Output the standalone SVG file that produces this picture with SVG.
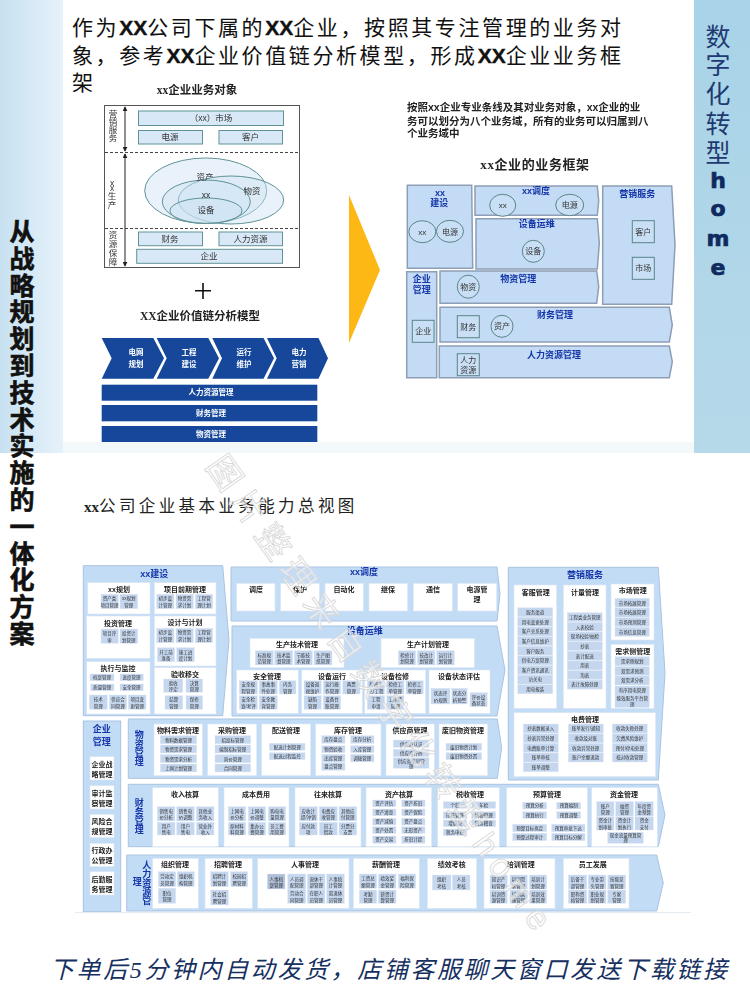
<svg xmlns="http://www.w3.org/2000/svg" width="750" height="1000" viewBox="0 0 750 1000">
<style>
text{font-family:"Liberation Sans","Noto Sans CJK SC",sans-serif;text-anchor:middle;fill:#222}
.song{font-family:"Liberation Serif","Noto Sans CJK SC",serif}
.head{font-size:21px;text-anchor:start;letter-spacing:2.6px;fill:#111}
.xx{font-family:"Liberation Sans",sans-serif;font-weight:700;font-size:21px;letter-spacing:0;stroke:#111;stroke-width:.4}
.obj{fill:#d9e8f6;stroke:#5f9396;stroke-width:1}
.ot{font-size:8.5px;fill:#333}
.ell{fill:#cfe3f4;fill-opacity:.45;stroke:#5f9396;stroke-width:1}
.blk{fill:#12479a}
.wt{font-size:7.5px;font-weight:700;fill:#fff}
.dom{fill:#c3dbf5;stroke:#8d9eb5;stroke-width:1.5}
.dt{font-size:9px;font-weight:700;fill:#1636a8}
.cir{fill:#c9dff5;stroke:#5b8588;stroke-width:1}
.ct{font-size:8px;fill:#333}
.pan{fill:#c3dcf6;stroke:#a9c3e2;stroke-width:1}
.w{fill:#fff;stroke:#dbe7f4;stroke-width:.6}
.h{font-size:7px;font-weight:700;fill:#222}
.s{fill:#c5d7ef;stroke:#dde7f5;stroke-width:.4}
.t{font-size:4.5px;fill:#333}
.pt{font-size:9px;font-weight:700;fill:#1636a8}
</style>
<defs>
<linearGradient id="lb" x1="0" x2="1" y1="0" y2="0"><stop offset="0" stop-color="#c7e1f1"/><stop offset="1" stop-color="#e6f2fa"/></linearGradient>
<linearGradient id="rb" x1="0" x2="0" y1="0" y2="1"><stop offset="0" stop-color="#a8d3e8"/><stop offset="1" stop-color="#b6d9e9"/></linearGradient>
<marker id="arr" viewBox="0 0 6 6" refX="5" refY="3" markerWidth="5" markerHeight="5" orient="auto-start-reverse"><path d="M0 0L6 3L0 6Z" fill="#222"/></marker>
<filter id="soft" x="-2%" y="-2%" width="104%" height="104%"><feGaussianBlur stdDeviation="0.3"/></filter>
</defs>
<rect width="750" height="1000" fill="#fff"/>
<rect x="63" y="442" width="631" height="11" fill="#f3f8fb"/>
<rect id="left-band" x="0" y="0" width="63" height="453" fill="url(#lb)"/>
<rect id="right-band" x="694" y="0" width="56" height="453" fill="url(#rb)"/>

<g id="intro-text">
<text class="song head" x="72" y="35">作为<tspan class="xx">XX</tspan>公司下属的<tspan class="xx">XX</tspan>企业&#xFF0C;按照其专注管理的业务对</text>
<text class="song head" x="72" y="63">象&#xFF0C;参考<tspan class="xx">XX</tspan>企业价值链分析模型&#xFF0C;形成<tspan class="xx">XX</tspan>企业业务框</text>
<text class="song head" x="72" y="90">架</text>
</g>

<g filter="url(#soft)">
<g id="business-objects">
<text x="197" y="94" font-size="11.5" font-weight="700" class="song">xx企业业务对象</text>
<rect x="104.5" y="105.5" width="195" height="162" fill="#fff" stroke="#555" stroke-width="1"/>
<path d="M105 152.5H299M105 228.5H299" stroke="#444" stroke-dasharray="3 2" fill="none"/>
<text class="ot" x="113 113 113 113" y="117 125 133 141">营销服务</text>
<text class="ot" x="112 112 112 112" y="186 191 199 208">xx生产</text>
<text class="ot" x="113 113 113 113" y="238 247 256 265">资源保障</text>
<rect class="obj" x="138.5" y="111" width="145" height="14.5"/><text class="ot" x="211" y="121">&#xFF08;xx&#xFF09;市场</text>
<rect class="obj" x="138.5" y="130.5" width="64" height="13.5"/><text class="ot" x="170" y="140">电源</text>
<rect class="obj" x="219" y="130.5" width="63.5" height="13.5"/><text class="ot" x="250.5" y="140">客户</text>
<ellipse class="ell" cx="205.7" cy="190.7" rx="61" ry="32.7"/>
<ellipse class="ell" cx="231" cy="200" rx="52.7" ry="24"/>
<ellipse class="ell" cx="206.3" cy="201.7" rx="44" ry="21.7"/>
<ellipse class="ell" cx="206" cy="210.7" rx="36" ry="12.7"/>
<text class="ot" x="205" y="180">资产</text><text class="ot" x="252" y="194">物资</text><text class="ot" x="206" y="198">xx</text><text class="ot" x="206" y="213">设备</text>
<rect class="obj" x="138.5" y="232" width="64" height="13.7"/><text class="ot" x="170" y="242">财务</text>
<rect class="obj" x="219" y="232" width="63.5" height="13.7"/><text class="ot" x="250.5" y="242">人力资源</text>
<rect class="obj" x="136.7" y="249.3" width="145.8" height="14"/><text class="ot" x="209" y="259">企业</text>
</g>
<g id="connectors" stroke="#222" stroke-width="1" fill="none">
<path d="M125 107V151" marker-start="url(#arr)" marker-end="url(#arr)"/>
<path d="M125 154V266" marker-start="url(#arr)" marker-end="url(#arr)"/>
</g>
<g id="plus"><path d="M203 283V299M195 290.7H211" stroke="#111" stroke-width="1.6" fill="none"/></g>
<g id="value-chain">
<text x="200" y="320" font-size="11.5" font-weight="700" class="song">XX企业价值链分析模型</text>
<path class="blk" d="M101.7 338H153.3L164 358.3L153.3 378.7H101.7L111.7 358.3Z"/><text class="wt" x="136" y="355">电网</text><text class="wt" x="136" y="367">规划</text>
<path class="blk" d="M156.7 338H208.3L219 358.3L208.3 378.7H156.7L166.7 358.3Z"/><text class="wt" x="189" y="355">工程</text><text class="wt" x="189" y="367">建设</text>
<path class="blk" d="M212.3 338H263.5L274 358.3L263.5 378.7H212.3L222 358.3Z"/><text class="wt" x="244" y="355">运行</text><text class="wt" x="244" y="367">维护</text>
<path class="blk" d="M267 338H318.5L328 358.3L318.5 378.7H267L276.7 358.3Z"/><text class="wt" x="299" y="355">电力</text><text class="wt" x="299" y="367">营销</text>
<rect class="blk" x="101.7" y="384.7" width="215.6" height="16"/><text class="wt" x="211" y="395">人力资源管理</text>
<rect class="blk" x="101.7" y="405" width="215.6" height="16.3"/><text class="wt" x="211" y="416">财务管理</text>
<rect class="blk" x="101.7" y="426" width="215.6" height="16"/><text class="wt" x="211" y="437">物资管理</text>
</g>
<g id="big-arrow"><path d="M349 195L380 270L349 343Z" fill="#fdb813"/></g>
<g id="framework-intro">
<text x="407" y="111" font-size="10.5" font-weight="700" style="text-anchor:start">按照xx企业专业条线及其对业务对象&#xFF0C;xx企业的业</text>
<text x="407" y="124.5" font-size="10.5" font-weight="700" style="text-anchor:start">务可以划分为八个业务域&#xFF0C;所有的业务可以归属到八</text>
<text x="407" y="137" font-size="10.5" font-weight="700" style="text-anchor:start">个业务域中</text>
<text x="535" y="169" font-size="13" font-weight="700" letter-spacing=".6" class="song">xx企业的业务框架</text>
</g>
<g id="fw-build"><path class="dom" d="M407.3 185.3H471.7L472.7 268.3H407.3Z"/><text class="dt" x="440" y="196">xx</text><text class="dt" x="439.3" y="206">建设</text>
<ellipse class="cir" cx="422.3" cy="231.7" rx="13.5" ry="11"/><text class="ct" x="422.3" y="234.5">xx</text><ellipse class="cir" cx="450" cy="231.3" rx="13.5" ry="11"/><text class="ct" x="450" y="234.5">电源</text></g>
<g id="fw-dispatch"><path class="dom" d="M475 186H597.3L598.7 200.7L597.3 215.3H475Z"/><text class="dt" x="536" y="194">xx调度</text>
<ellipse class="cir" cx="502.7" cy="205.3" rx="13" ry="11"/><text class="ct" x="502.7" y="208">xx</text><ellipse class="cir" cx="569.7" cy="205" rx="14" ry="10.7"/><text class="ct" x="569.7" y="208">电源</text></g>
<g id="fw-ops"><path class="dom" d="M476 218.7H597.3L599.3 243.3L597.3 269H476Z"/><text class="dt" x="536.7" y="227">设备运维</text>
<ellipse class="cir" cx="533.3" cy="251.3" rx="11" ry="11"/><text class="ct" x="533.3" y="254">设备</text></g>
<g id="fw-marketing"><path class="dom" d="M602.7 186H671.7L675 245L671.7 304.3H602.7Z"/><text class="dt" x="637.3" y="197">营销服务</text>
<rect class="cir" x="632.3" y="220.7" width="22" height="22"/><text class="ct" x="643.3" y="234.5">客户</text><rect class="cir" x="632.3" y="257.3" width="22" height="22"/><text class="ct" x="643.3" y="271">市场</text></g>
<g id="fw-enterprise"><path class="dom" d="M406.7 271.7H436.7V377.7H406.7Z"/><text class="dt" x="421.7" y="282">企业</text><text class="dt" x="421.7" y="293">管理</text>
<rect class="cir" x="412.3" y="320.3" width="21.7" height="22"/><text class="ct" x="423.2" y="334">企业</text></g>
<g id="fw-material"><path class="dom" d="M440 271H596.7L598.7 286.7L596.7 303.3H440Z"/><text class="dt" x="518.3" y="282">物资管理</text>
<ellipse class="cir" cx="468.3" cy="286.7" rx="11" ry="11.5"/><text class="ct" x="468.3" y="289.5">物资</text></g>
<g id="fw-finance"><path class="dom" d="M440 307.3H669.3L672.3 325L669.3 342H440Z"/><text class="dt" x="555" y="318">财务管理</text>
<rect class="cir" x="457.3" y="315.7" width="22" height="22"/><text class="ct" x="468.3" y="329.5">财务</text><ellipse class="cir" cx="502" cy="326.3" rx="11" ry="11"/><text class="ct" x="502" y="329">资产</text></g>
<g id="fw-hr"><path class="dom" d="M439.3 346H669.3L672.3 361.7L669.3 377.7H439.3Z"/><text class="dt" x="554" y="357.5">人力资源管理</text>
<rect class="cir" x="457.3" y="353.7" width="22" height="22"/><text class="ct" x="468.3" y="363">人力</text><text class="ct" x="468.3" y="372.5">资源</text></g>
</g>

<text id="capability-title" class="song" x="84" y="512" font-size="16.5" letter-spacing="3.4" fill="#111" style="text-anchor:start"><tspan font-weight="700" letter-spacing="0" font-size="15">xx</tspan>公司企业基本业务能力总视图</text>

<g filter="url(#soft)">
<g id="cap-build">
<path class="pan" d="M83.3 565.7H222.7L229 640L222.7 715.7H83.3Z"/><text class="pt" x="154.3" y="577">xx建设</text>
<rect class="w" x="87.7" y="582.7" width="62.3" height="31.3"/><text class="h" x="119" y="591.5">xx规划</text>
<rect class="s" x="101" y="594.3" width="17.3" height="14.4"/><text class="t" x="109.6" y="600">资产类<tspan x="109.6" dy="6.6">项目管理</tspan></text>
<rect class="s" x="120" y="594.3" width="17.7" height="14.4"/><text class="t" x="128.8" y="600">xx规划<tspan x="128.8" dy="6.6">管理</tspan></text>
<rect class="w" x="154.3" y="582.7" width="61.7" height="31.3"/><text class="h" x="185" y="591.5">项目前期管理</text>
<rect class="s" x="156.7" y="594.3" width="17.3" height="14.4"/><text class="t" x="165.3" y="600">初步设<tspan x="165.3" dy="6.6">计管理</tspan></text>
<rect class="s" x="176" y="594.3" width="17.3" height="14.4"/><text class="t" x="184.6" y="600">物资需<tspan x="184.6" dy="6.6">求计划</tspan></text>
<rect class="s" x="195.3" y="594.3" width="17.4" height="14.4"/><text class="t" x="204" y="600">工程管<tspan x="204" dy="6.6">理计划</tspan></text>
<rect class="w" x="86.7" y="616" width="63.3" height="42.3"/><text class="h" x="118" y="625.5">投资管理</text>
<rect class="s" x="101" y="629" width="17.3" height="14.3"/><text class="t" x="109.6" y="635">项目评<tspan x="109.6" dy="6.6">审</tspan></text>
<rect class="s" x="120" y="629" width="17.7" height="14.3"/><text class="t" x="128.8" y="635">投资计<tspan x="128.8" dy="6.6">划管理</tspan></text>
<rect class="w" x="154.3" y="616" width="61.7" height="50"/><text class="h" x="185" y="625">设计与计划</text>
<rect class="s" x="156.7" y="628.3" width="17.3" height="14.4"/><text class="t" x="165.3" y="634">初步设<tspan x="165.3" dy="6.6">计管理</tspan></text>
<rect class="s" x="176" y="628.3" width="17.3" height="14.4"/><text class="t" x="184.6" y="634">物资需<tspan x="184.6" dy="6.6">求计划</tspan></text>
<rect class="s" x="195.3" y="628.3" width="17.4" height="14.4"/><text class="t" x="204" y="634">工程管<tspan x="204" dy="6.6">理计划</tspan></text>
<rect class="s" x="157.3" y="647.7" width="17.4" height="14"/><text class="t" x="166" y="653.5">开工前<tspan x="166" dy="6.6">准备</tspan></text>
<rect class="s" x="176.7" y="647.7" width="17.6" height="14"/><text class="t" x="185.5" y="653.5">施工进<tspan x="185.5" dy="6.6">度计划</tspan></text>
<rect class="w" x="86.7" y="661.7" width="63.3" height="52.3"/><text class="h" x="118" y="671">执行与监控</text>
<rect class="s" x="90" y="674" width="24" height="6.7"/><text class="t" x="102" y="679">档案管理</text>
<rect class="s" x="120" y="674" width="23.3" height="6.7"/><text class="t" x="131.6" y="679">进度管理</text>
<rect class="s" x="90.7" y="684" width="23.3" height="6.7"/><text class="t" x="102.3" y="689">质量管理</text>
<rect class="s" x="120" y="684" width="23.3" height="6.7"/><text class="t" x="131.6" y="689">安全管理</text>
<rect class="s" x="89.3" y="695" width="18" height="14.3"/><text class="t" x="98.3" y="701">技术<tspan x="98.3" dy="6.6">管理</tspan></text>
<rect class="s" x="109.3" y="695" width="17.4" height="14.3"/><text class="t" x="118" y="701">供应合<tspan x="118" dy="6.6">同管理</tspan></text>
<rect class="s" x="128.3" y="695" width="17.7" height="14.3"/><text class="t" x="137.2" y="701">项目变<tspan x="137.2" dy="6.6">更管理</tspan></text>
<rect class="w" x="154.3" y="667.7" width="61.7" height="46.3"/><text class="h" x="185" y="676.5">验收移交</text>
<rect class="s" x="163.7" y="679" width="19" height="13.3"/><text class="t" x="173.2" y="684.5">验收<tspan x="173.2" dy="6.6">评定</tspan></text>
<rect class="s" x="186" y="679" width="16.7" height="13.3"/><text class="t" x="194.3" y="684.5">决算<tspan x="194.3" dy="6.6">管理</tspan></text>
<rect class="s" x="165" y="695.7" width="17.7" height="13.6"/><text class="t" x="173.8" y="701">结算<tspan x="173.8" dy="6.6">管理</tspan></text>
<rect class="s" x="186" y="695.7" width="16.7" height="13.6"/><text class="t" x="194.3" y="701">保修<tspan x="194.3" dy="6.6">管理</tspan></text>
</g>

<g id="cap-dispatch">
<path class="pan" d="M231 567H497L500 594L497 621H231Z"/><text class="pt" x="364" y="575">xx调度</text>
<rect class="w" x="236.7" y="583.3" width="38.3" height="27.7"/><text class="h" x="256" y="592">调度</text>
<rect class="w" x="280.7" y="583.3" width="38.6" height="27.7"/><text class="h" x="300" y="592">保护</text>
<rect class="w" x="325" y="583.3" width="38.3" height="27.7"/><text class="h" x="344" y="592">自动化</text>
<rect class="w" x="369" y="583.3" width="38.7" height="27.7"/><text class="h" x="388" y="592">继保</text>
<rect class="w" x="413.3" y="583.3" width="39" height="27.7"/><text class="h" x="433" y="592">通信</text>
<rect class="w" x="457.7" y="583.3" width="39" height="27.7"/><text class="h" x="477" y="592">电源管</text><text class="h" x="477" y="602">理</text>
</g>

<g id="cap-ops">
<path class="pan" d="M232 626H497L505 670L497 716H232Z"/><text class="pt" x="364.7" y="634">设备运维</text>
<rect class="w" x="250" y="638.3" width="94" height="29.4"/><text class="h" x="297" y="647">生产技术管理</text>
<rect class="s" x="255.3" y="650.7" width="18" height="14.3"/><text class="t" x="264.3" y="656.5">标准规<tspan x="264.3" dy="6.6">范管理</tspan></text>
<rect class="s" x="274.7" y="650.7" width="18" height="14.3"/><text class="t" x="283.7" y="656.5">技术监<tspan x="283.7" dy="6.6">督管理</tspan></text>
<rect class="s" x="294.3" y="650.7" width="18" height="14.3"/><text class="t" x="303.3" y="656.5">节能技<tspan x="303.3" dy="6.6">术管理</tspan></text>
<rect class="s" x="314" y="650.7" width="18" height="14.3"/><text class="t" x="323" y="656.5">生产图<tspan x="323" dy="6.6">纸管理</tspan></text>
<rect class="w" x="381" y="638.3" width="93.3" height="29.4"/><text class="h" x="428" y="647">生产计划管理</text>
<rect class="s" x="398.3" y="650.7" width="17.4" height="14.3"/><text class="t" x="407" y="656.5">检修计<tspan x="407" dy="6.6">划管理</tspan></text>
<rect class="s" x="417.3" y="650.7" width="17.7" height="14.3"/><text class="t" x="426.2" y="656.5">技改计<tspan x="426.2" dy="6.6">划管理</tspan></text>
<rect class="s" x="436.7" y="650.7" width="17.6" height="14.3"/><text class="t" x="445.5" y="656.5">运行计<tspan x="445.5" dy="6.6">划管理</tspan></text>
<rect class="w" x="236.7" y="670" width="61.6" height="43.3"/><text class="h" x="267" y="678.5">安全管理</text>
<rect class="s" x="239.3" y="680.7" width="18" height="13.3"/><text class="t" x="248.3" y="686">安全规<tspan x="248.3" dy="6.6">程管理</tspan></text>
<rect class="s" x="259.3" y="680.7" width="18" height="13.3"/><text class="t" x="268.3" y="686">事故事<tspan x="268.3" dy="6.6">件处理</tspan></text>
<rect class="s" x="279.3" y="680.7" width="16.7" height="13.3"/><text class="t" x="287.6" y="686">内务<tspan x="287.6" dy="6.6">管理</tspan></text>
<rect class="s" x="239.3" y="695.7" width="18" height="13.6"/><text class="t" x="248.3" y="701">安全检<tspan x="248.3" dy="6.6">查/考评</tspan></text>
<rect class="s" x="259.3" y="695.7" width="18" height="13.6"/><text class="t" x="268.3" y="701">安全教<tspan x="268.3" dy="6.6">育管理</tspan></text>
<rect class="w" x="301.7" y="670" width="60.6" height="43.3"/><text class="h" x="332" y="678.5">设备运行</text>
<rect class="s" x="304" y="680.7" width="17.3" height="13.3"/><text class="t" x="312.6" y="686">设备巡<tspan x="312.6" dy="6.6">视维护</tspan></text>
<rect class="s" x="323.3" y="680.7" width="17.4" height="13.3"/><text class="t" x="332" y="686">运行操<tspan x="332" dy="6.6">作管理</tspan></text>
<rect class="s" x="342.7" y="680.7" width="17.3" height="13.3"/><text class="t" x="351.3" y="686">两票<tspan x="351.3" dy="6.6">管理</tspan></text>
<rect class="s" x="304" y="695.7" width="17.3" height="13.6"/><text class="t" x="312.6" y="701">缺陷<tspan x="312.6" dy="6.6">管理</tspan></text>
<rect class="s" x="323.3" y="695.7" width="17.4" height="13.6"/><text class="t" x="332" y="701">设备台<tspan x="332" dy="6.6">账管理</tspan></text>
<rect class="w" x="364.7" y="670" width="61" height="43.3"/><text class="h" x="395" y="678.5">设备检修</text>
<rect class="s" x="367.3" y="680.7" width="17.4" height="13.3"/><text class="t" x="376" y="686">检修工<tspan x="376" dy="6.6">艺/工程</tspan></text>
<rect class="s" x="386.7" y="680.7" width="17.3" height="13.3"/><text class="t" x="395.3" y="686">检修工<tspan x="395.3" dy="6.6">单管理</tspan></text>
<rect class="s" x="406" y="680.7" width="17.3" height="13.3"/><text class="t" x="414.6" y="686">检修工<tspan x="414.6" dy="6.6">单管理</tspan></text>
<rect class="s" x="367.3" y="695.7" width="17.4" height="13.6"/><text class="t" x="376" y="701">工程<tspan x="376" dy="6.6">申请</tspan></text>
<rect class="s" x="386.7" y="695.7" width="17.3" height="13.6"/><text class="t" x="395.3" y="701">工作票<tspan x="395.3" dy="6.6">管理</tspan></text>
<rect class="w" x="429" y="670" width="61" height="43.3"/><text class="h" x="459" y="678.5">设备状态评估</text>
<rect class="s" x="431" y="688.3" width="19" height="15.7"/><text class="t" x="440.5" y="695">状态评<tspan x="440.5" dy="6.6">价规则</tspan></text>
<rect class="s" x="451.7" y="688.3" width="15.6" height="15.7"/><text class="t" x="459.5" y="695">状态分<tspan x="459.5" dy="6.6">析预警</tspan></text>
<rect class="s" x="470" y="692.7" width="17.3" height="14"/><text class="t" x="478.6" y="698.5">评价设<tspan x="478.6" dy="6.6">备状态</tspan></text>
</g>

<g id="cap-marketing">
<path class="pan" d="M508.3 567.3H658.3L665 673.3L658.3 780H508.3Z"/><text class="pt" x="585" y="578">营销服务</text>
<rect class="w" x="514" y="585" width="42.7" height="123.3"/><text class="h" x="535.7" y="595">客服管理</text>
<rect class="s" x="517.7" y="607.7" width="35" height="9"/><text class="t" x="535.2" y="614">服务渠道</text>
<rect class="s" x="517.7" y="617.3" width="35" height="9"/><text class="t" x="535.2" y="623.6">用电变更处理</text>
<rect class="s" x="517.7" y="627" width="35" height="9"/><text class="t" x="535.2" y="633.3">客户关系处理</text>
<rect class="s" x="517.7" y="636.6" width="35" height="9"/><text class="t" x="535.2" y="642.9">客户信息维护</text>
<rect class="s" x="517.7" y="646.2" width="35" height="9"/><text class="t" x="535.2" y="652.5">客户服务</text>
<rect class="s" x="517.7" y="655.9" width="35" height="9"/><text class="t" x="535.2" y="662.2">供电方案管理</text>
<rect class="s" x="517.7" y="665.5" width="35" height="9"/><text class="t" x="535.2" y="671.8">客户资讯通讯</text>
<rect class="s" x="517.7" y="675.1" width="35" height="9"/><text class="t" x="535.2" y="681.4">访关电</text>
<rect class="s" x="517.7" y="684.8" width="35" height="9"/><text class="t" x="535.2" y="691.1">用电报装</text>
<rect class="w" x="563.3" y="585" width="42.7" height="123.3"/><text class="h" x="585" y="595">计量管理</text>
<rect class="s" x="567.3" y="612.7" width="35" height="9"/><text class="t" x="584.8" y="619">工程类业务管理</text>
<rect class="s" x="567.3" y="622.3" width="35" height="9"/><text class="t" x="584.8" y="628.6">入表校验</text>
<rect class="s" x="567.3" y="632" width="35" height="9"/><text class="t" x="584.8" y="638.3">现场校验/抽检</text>
<rect class="s" x="567.3" y="641.6" width="35" height="9"/><text class="t" x="584.8" y="647.9">抄表</text>
<rect class="s" x="567.3" y="651.2" width="35" height="9"/><text class="t" x="584.8" y="657.5">表计配送</text>
<rect class="s" x="567.3" y="660.9" width="35" height="9"/><text class="t" x="584.8" y="667.2">用表</text>
<rect class="s" x="567.3" y="670.5" width="35" height="9"/><text class="t" x="584.8" y="676.8">淘表</text>
<rect class="s" x="567.3" y="680.1" width="35" height="9"/><text class="t" x="584.8" y="686.4">表计故障处理</text>
<rect class="w" x="611" y="584" width="43" height="56"/><text class="h" x="632.7" y="593">市场管理</text>
<rect class="s" x="615" y="598.3" width="34.3" height="9"/><text class="t" x="632.2" y="604.6">市场拓展管理</text>
<rect class="s" x="615" y="608" width="34.3" height="9"/><text class="t" x="632.2" y="614.3">市场拓展管理</text>
<rect class="s" x="615" y="617.6" width="34.3" height="9"/><text class="t" x="632.2" y="623.9">市场预测管理</text>
<rect class="s" x="615" y="627.3" width="34.3" height="9"/><text class="t" x="632.2" y="633.6">市场信息管理</text>
<rect class="w" x="611" y="644.3" width="43" height="64"/><text class="h" x="632.7" y="654">需求侧管理</text>
<rect class="s" x="615" y="656.7" width="34.3" height="9"/><text class="t" x="632.2" y="663">需求侧规划</text>
<rect class="s" x="615" y="666.5" width="34.3" height="9"/><text class="t" x="632.2" y="672.8">双需求预测</text>
<rect class="s" x="615" y="676" width="34.3" height="9"/><text class="t" x="632.2" y="682.3">双需求分析</text>
<rect class="s" x="615" y="686" width="34.3" height="9"/><text class="t" x="632.2" y="692.3">有序用电管理</text>
<rect class="s" x="615" y="695" width="34.3" height="12.5"/><text class="t" x="632.2" y="700">能效服务平台管<tspan x="632.2" dy="6">理</tspan></text>
<rect class="w" x="514" y="712.7" width="141.7" height="64"/><text class="h" x="585" y="722">电费管理</text>
<rect class="s" x="523.3" y="724" width="35" height="9"/><text class="t" x="540.8" y="730.3">抄表数据录入</text>
<rect class="s" x="523.3" y="733.7" width="35" height="9"/><text class="t" x="540.8" y="740">抄表异常处理</text>
<rect class="s" x="523.3" y="743.3" width="35" height="9"/><text class="t" x="540.8" y="749.6">电费账单计算</text>
<rect class="s" x="523.3" y="753" width="35" height="9"/><text class="t" x="540.8" y="759.3">账单审核</text>
<rect class="s" x="523.3" y="762.7" width="35" height="9"/><text class="t" x="540.8" y="769">账单调整</text>
<rect class="s" x="568.3" y="724" width="35" height="9"/><text class="t" x="585.8" y="730.3">账单发行/通知</text>
<rect class="s" x="568.3" y="733.7" width="35" height="9"/><text class="t" x="585.8" y="740">收款及对账</text>
<rect class="s" x="568.3" y="743.3" width="35" height="9"/><text class="t" x="585.8" y="749.6">收款异常处理</text>
<rect class="s" x="568.3" y="753" width="35" height="9"/><text class="t" x="585.8" y="759.3">账户余额退款</text>
<rect class="s" x="612.3" y="724" width="35" height="9"/><text class="t" x="629.8" y="730.3">收款失败处理</text>
<rect class="s" x="612.3" y="733.7" width="35" height="9"/><text class="t" x="629.8" y="740">欠费风险维护</text>
<rect class="s" x="612.3" y="743.3" width="35" height="9"/><text class="t" x="629.8" y="749.6">预付/停电处理</text>
<rect class="s" x="612.3" y="753" width="35" height="9"/><text class="t" x="629.8" y="759.3">核对收款管理</text>
</g>

<g id="cap-enterprise">
<rect class="pan" x="83.3" y="721" width="37.4" height="190.7"/>
<text class="pt" x="101.7" y="732">企业</text><text class="pt" x="101.7" y="745">管理</text>
<rect class="w" x="90" y="756.7" width="24" height="23.3"/><text class="h" x="102" y="766.5">企业战</text><text class="h" x="102" y="776.5">略管理</text>
<rect class="w" x="90" y="785.7" width="24" height="23.3"/><text class="h" x="102" y="795.5">审计监</text><text class="h" x="102" y="805.5">察管理</text>
<rect class="w" x="90" y="814.3" width="24" height="23.4"/><text class="h" x="102" y="824">风险合</text><text class="h" x="102" y="834">规管理</text>
<rect class="w" x="90" y="843.3" width="24" height="23.4"/><text class="h" x="102" y="853">行政办</text><text class="h" x="102" y="863">公管理</text>
<rect class="w" x="90" y="871.7" width="24" height="23.3"/><text class="h" x="102" y="881.5">后勤服</text><text class="h" x="102" y="891.5">务管理</text>
</g>

<g id="cap-material">
<path class="pan" d="M128.3 719H497.3L501.7 747.5L497.3 778.3H128.3Z"/>
<text class="pt" x="139.3 139.3 139.3 139.3" y="738 747 756 765">物资管理</text>
<rect class="w" x="154" y="724" width="48.3" height="51.7"/><text class="h" x="178" y="733">物料需求管理</text>
<rect class="s" x="160.3" y="735.7" width="36.4" height="8"/><text class="t" x="178.5" y="741.5">物料数据管理</text>
<rect class="s" x="160.3" y="745" width="36.4" height="8"/><text class="t" x="178.5" y="750.8">物资需求管理</text>
<rect class="s" x="160.3" y="754.7" width="36.4" height="8"/><text class="t" x="178.5" y="760.5">物资需求分析</text>
<rect class="s" x="160.3" y="764" width="36.4" height="8"/><text class="t" x="178.5" y="769.8">上网计划管理</text>
<rect class="w" x="207.7" y="724" width="49" height="51.7"/><text class="h" x="232" y="733">采购管理</text>
<rect class="s" x="215" y="735.7" width="35.7" height="8"/><text class="t" x="232.8" y="741.5">招投标管理</text>
<rect class="s" x="215" y="745" width="35.7" height="8"/><text class="t" x="232.8" y="750.8">编制招标管理</text>
<rect class="s" x="215" y="754.7" width="35.7" height="8"/><text class="t" x="232.8" y="760.5">询价管理</text>
<rect class="s" x="215" y="764" width="35.7" height="8"/><text class="t" x="232.8" y="769.8">合同管理</text>
<rect class="w" x="261.7" y="724" width="49" height="51.7"/><text class="h" x="286" y="733">配送管理</text>
<rect class="s" x="269.3" y="743.3" width="35.7" height="7"/><text class="t" x="287.2" y="748.6">配送计划管理</text>
<rect class="s" x="269.3" y="752.7" width="35.7" height="7"/><text class="t" x="287.2" y="758">配送过程监控</text>
<rect class="w" x="315.7" y="724" width="65.3" height="51.7"/><text class="h" x="348" y="733">库存管理</text>
<rect class="s" x="321.7" y="735.7" width="23.3" height="7.6"/><text class="t" x="333.3" y="741.3">库存盘点</text>
<rect class="s" x="321.7" y="745.7" width="23.3" height="7"/><text class="t" x="333.3" y="751">物资验收</text>
<rect class="s" x="321.7" y="754.3" width="23.3" height="7.6"/><text class="t" x="333.3" y="760">出库管理</text>
<rect class="s" x="321.7" y="762.7" width="23.3" height="7.6"/><text class="t" x="333.3" y="768.4">盘点管理</text>
<rect class="s" x="350.7" y="735.7" width="23.3" height="7.6"/><text class="t" x="362.3" y="741.3">库存分析</text>
<rect class="s" x="350.7" y="745.7" width="23.3" height="7"/><text class="t" x="362.3" y="751">入库管理</text>
<rect class="s" x="350.7" y="754.3" width="23.3" height="7.6"/><text class="t" x="362.3" y="760">调拨管理</text>
<rect class="w" x="386" y="724" width="48.3" height="51.7"/><text class="h" x="410" y="733">供应商管理</text>
<rect class="s" x="393.3" y="740" width="35.7" height="7.3"/><text class="t" x="411.2" y="745.5">供应商认证</text>
<rect class="s" x="393.3" y="749.3" width="35.7" height="7.3"/><text class="t" x="411.2" y="754.8">供应商评价</text>
<rect class="s" x="393.3" y="757.7" width="35.7" height="10.5"/><text class="t" x="411.2" y="762.5">供应商信息管<tspan x="411.2" dy="5">理</tspan></text>
<rect class="w" x="439" y="724" width="48.7" height="51.7"/><text class="h" x="463" y="733">废旧物资管理</text>
<rect class="s" x="446" y="743.3" width="35.7" height="7"/><text class="t" x="463.8" y="748.6">废旧物资计划</text>
<rect class="s" x="446" y="752.7" width="35.7" height="7"/><text class="t" x="463.8" y="758">废旧物资处置</text>
</g>

<g id="cap-finance">
<path class="pan" d="M128.3 784.3H658.3L665 815L658.3 846.7H128.3Z"/>
<text class="pt" x="139.3 139.3 139.3 139.3" y="806 815 824 833">财务管理</text>
<rect class="w" x="152.7" y="787.7" width="65.6" height="59"/><text class="h" x="185" y="797">收入核算</text>
<rect class="s" x="157.3" y="806.7" width="17.7" height="14.3"/><text class="t" x="166.2" y="812.5">销售电<tspan x="166.2" dy="6.6">价分析</tspan></text>
<rect class="s" x="176.7" y="806.7" width="17.6" height="14.3"/><text class="t" x="185.5" y="812.5">销售电<tspan x="185.5" dy="6.6">价调整</tspan></text>
<rect class="s" x="196.3" y="806.7" width="17.7" height="14.3"/><text class="t" x="205.2" y="812.5">其他业<tspan x="205.2" dy="6.6">务收入</tspan></text>
<rect class="s" x="157.3" y="822.3" width="17.7" height="12.7"/><text class="t" x="166.2" y="827.5">用户<tspan x="166.2" dy="6.6">售电</tspan></text>
<rect class="s" x="176.7" y="822.3" width="17.6" height="12.7"/><text class="t" x="185.5" y="827.5">用户<tspan x="185.5" dy="6.6">售电</tspan></text>
<rect class="s" x="196.3" y="822.3" width="17.7" height="12.7"/><text class="t" x="205.2" y="827.5">营业外<tspan x="205.2" dy="6.6">收入</tspan></text>
<rect class="w" x="224" y="787.7" width="65" height="59"/><text class="h" x="256" y="797">成本费用</text>
<rect class="s" x="228.3" y="806.7" width="17.4" height="14.3"/><text class="t" x="237" y="812.5">上网电<tspan x="237" dy="6.6">价分析</tspan></text>
<rect class="s" x="248.3" y="806.7" width="17.4" height="14.3"/><text class="t" x="257" y="812.5">上网电<tspan x="257" dy="6.6">价调整</tspan></text>
<rect class="s" x="268.3" y="806.7" width="17.4" height="14.3"/><text class="t" x="277" y="812.5">购电电<tspan x="277" dy="6.6">量管理</tspan></text>
<rect class="s" x="228.3" y="822.3" width="17.4" height="12.7"/><text class="t" x="237" y="827.5">原材料<tspan x="237" dy="6.6">料管理</tspan></text>
<rect class="s" x="248.3" y="822.3" width="17.4" height="12.7"/><text class="t" x="257" y="827.5">集办公<tspan x="257" dy="6.6">费管理</tspan></text>
<rect class="s" x="268.3" y="822.3" width="17.4" height="12.7"/><text class="t" x="277" y="827.5">员工费<tspan x="277" dy="6.6">用管理</tspan></text>
<rect class="w" x="295" y="787.7" width="66" height="59"/><text class="h" x="328" y="797">往来核算</text>
<rect class="s" x="299.3" y="806.7" width="18" height="14.3"/><text class="t" x="308.3" y="812.5">应收计<tspan x="308.3" dy="6.6">提/冲销</tspan></text>
<rect class="s" x="319.3" y="806.7" width="18" height="14.3"/><text class="t" x="328.3" y="812.5">电费应<tspan x="328.3" dy="6.6">收管理</tspan></text>
<rect class="s" x="339" y="806.7" width="17.7" height="14.3"/><text class="t" x="347.8" y="812.5">其他应<tspan x="347.8" dy="6.6">付管理</tspan></text>
<rect class="s" x="299.3" y="822.3" width="18" height="12.7"/><text class="t" x="308.3" y="827.5">应付款<tspan x="308.3" dy="6.6">项</tspan></text>
<rect class="s" x="319.3" y="822.3" width="18" height="12.7"/><text class="t" x="328.3" y="827.5">员工<tspan x="328.3" dy="6.6">借款</tspan></text>
<rect class="s" x="339" y="822.3" width="17.7" height="12.7"/><text class="t" x="347.8" y="827.5">分票分<tspan x="347.8" dy="6.6">支票</tspan></text>
<rect class="w" x="366" y="787.7" width="65.7" height="59"/><text class="h" x="399" y="797">资产核算</text>
<rect class="s" x="372.7" y="800" width="23.3" height="6.7"/><text class="t" x="384.3" y="805">资产评估</text>
<rect class="s" x="372.7" y="809" width="23.3" height="6.7"/><text class="t" x="384.3" y="814">资产清查</text>
<rect class="s" x="372.7" y="818.3" width="23.3" height="6.7"/><text class="t" x="384.3" y="823.3">资产减值</text>
<rect class="s" x="372.7" y="826.7" width="23.3" height="6.7"/><text class="t" x="384.3" y="831.7">资产处置</text>
<rect class="s" x="372.7" y="836" width="23.3" height="7.3"/><text class="t" x="384.3" y="841.3">资产交易</text>
<rect class="s" x="401.7" y="800" width="23.3" height="6.7"/><text class="t" x="413.3" y="805">资产折旧</text>
<rect class="s" x="401.7" y="809" width="23.3" height="6.7"/><text class="t" x="413.3" y="814">资产保险</text>
<rect class="s" x="401.7" y="818.3" width="23.3" height="6.7"/><text class="t" x="413.3" y="823.3">资产盘点</text>
<rect class="s" x="401.7" y="826.7" width="23.3" height="6.7"/><text class="t" x="413.3" y="831.7">无形资产</text>
<rect class="s" x="401.7" y="836" width="23.3" height="7.3"/><text class="t" x="413.3" y="841.3">折旧计提</text>
<rect class="w" x="437.7" y="787.7" width="61.6" height="59"/><text class="h" x="470" y="797">税收管理</text>
<rect class="s" x="443.3" y="801.7" width="23.4" height="6.7"/><text class="t" x="455" y="806.7">个税</text>
<rect class="s" x="443.3" y="811.7" width="23.4" height="6.7"/><text class="t" x="455" y="816.7">印花管理</text>
<rect class="s" x="443.3" y="820" width="23.4" height="6.7"/><text class="t" x="455" y="825">增值税</text>
<rect class="s" x="443.3" y="829" width="23.4" height="6.7"/><text class="t" x="455" y="834">税务申报</text>
<rect class="s" x="471.7" y="801.7" width="24" height="6.7"/><text class="t" x="483.7" y="806.7">年检</text>
<rect class="s" x="471.7" y="811.7" width="24" height="6.7"/><text class="t" x="483.7" y="816.7">纳税管理</text>
<rect class="s" x="471.7" y="820" width="24" height="6.7"/><text class="t" x="483.7" y="825">税务稽查</text>
<rect class="w" x="506.7" y="787.7" width="80.6" height="59"/><text class="h" x="547" y="797">预算管理</text>
<rect class="s" x="522.7" y="802.3" width="24" height="6.7"/><text class="t" x="534.7" y="807.3">预算分析</text>
<rect class="s" x="556.7" y="802.3" width="24" height="6.7"/><text class="t" x="568.7" y="807.3">预算编制</text>
<rect class="s" x="522.7" y="811.7" width="24" height="6.7"/><text class="t" x="534.7" y="816.7">预算执行</text>
<rect class="s" x="556.7" y="811.7" width="24" height="6.7"/><text class="t" x="568.7" y="816.7">预算调整</text>
<rect class="s" x="512.7" y="824.3" width="34" height="7.3"/><text class="t" x="529.7" y="829.7">预算目标拟定</text>
<rect class="s" x="551.7" y="824.3" width="33.3" height="7.3"/><text class="t" x="568.3" y="829.7">预算审批下达</text>
<rect class="s" x="512.7" y="833.3" width="34" height="7.3"/><text class="t" x="529.7" y="838.7">预算过程审计</text>
<rect class="s" x="551.7" y="833.3" width="33.3" height="7.3"/><text class="t" x="568.3" y="838.7">预算目标分解</text>
<rect class="w" x="591.7" y="787.7" width="65.6" height="59"/><text class="h" x="624" y="797">资金管理</text>
<rect class="s" x="596.7" y="801.7" width="17.3" height="14.3"/><text class="t" x="605.3" y="807.5">账户<tspan x="605.3" dy="6.6">管理</tspan></text>
<rect class="s" x="615.7" y="801.7" width="17.6" height="14.3"/><text class="t" x="624.5" y="807.5">融资<tspan x="624.5" dy="6.6">管理</tspan></text>
<rect class="s" x="635" y="801.7" width="18.3" height="14.3"/><text class="t" x="644.2" y="807.5">年度资<tspan x="644.2" dy="6.6">金预算</tspan></text>
<rect class="s" x="596.7" y="816.7" width="17.3" height="13.3"/><text class="t" x="605.3" y="822">资金计<tspan x="605.3" dy="6.6">划审批</tspan></text>
<rect class="s" x="615.7" y="816.7" width="17.6" height="13.3"/><text class="t" x="624.5" y="822">资金计<tspan x="624.5" dy="6.6">划执行</tspan></text>
<rect class="s" x="635" y="816.7" width="18.3" height="13.3"/><text class="t" x="644.2" y="822">资金<tspan x="644.2" dy="6.6">支付</tspan></text>
<rect class="s" x="607.7" y="832.3" width="35.6" height="11"/><text class="t" x="625.5" y="837">现金流量预算管<tspan x="625.5" dy="5">理</tspan></text>
</g>

<g id="cap-hr">
<path class="pan" d="M126.7 855H656.7L663.3 883L656.7 911H126.7Z"/>
<text class="pt" x="146.7 146.7 146.7 146.7 146.7 137.3" y="868 877 886 895 904 885">人力资源管理</text>
<rect class="w" x="152.7" y="858.3" width="45.6" height="50"/><text class="h" x="175" y="867">组织管理</text>
<rect class="s" x="158.3" y="871.7" width="17.4" height="15"/><text class="t" x="167" y="878">劳动定<tspan x="167" dy="6.6">员管理</tspan></text>
<rect class="s" x="177.3" y="871.7" width="17" height="15"/><text class="t" x="185.8" y="878">组织机<tspan x="185.8" dy="6.6">构管理</tspan></text>
<rect class="s" x="158.3" y="888.3" width="17.4" height="15"/><text class="t" x="167" y="894.5">职位<tspan x="167" dy="6.6">管理</tspan></text>
<rect class="w" x="205" y="858.3" width="47.3" height="50"/><text class="h" x="228" y="867">招聘管理</text>
<rect class="s" x="210.7" y="871.7" width="17.6" height="15"/><text class="t" x="219.5" y="878">招聘计<tspan x="219.5" dy="6.6">划管理</tspan></text>
<rect class="s" x="230.7" y="871.7" width="17" height="15"/><text class="t" x="239.2" y="878">校园招<tspan x="239.2" dy="6.6">聘管理</tspan></text>
<rect class="s" x="210.7" y="890" width="17.6" height="15"/><text class="t" x="219.5" y="896">社会招<tspan x="219.5" dy="6.6">聘管理</tspan></text>
<rect class="w" x="257.7" y="858.3" width="91.3" height="50"/><text class="h" x="305" y="867">人事管理</text>
<rect class="s" x="267.3" y="874" width="17.7" height="15" style="fill:#aebfd8"/><text class="t" x="276.2" y="880.5">人事档<tspan x="276.2" dy="6.6">案管理</tspan></text>
<rect class="s" x="287.7" y="874" width="18" height="15"/><text class="t" x="296.7" y="880.5">人员调<tspan x="296.7" dy="6.6">配管理</tspan></text>
<rect class="s" x="307.3" y="874" width="17.7" height="15"/><text class="t" x="316.2" y="880.5">退休干<tspan x="316.2" dy="6.6">部管理</tspan></text>
<rect class="s" x="326.7" y="874" width="17.6" height="15"/><text class="t" x="335.5" y="880.5">人事统<tspan x="335.5" dy="6.6">计管理</tspan></text>
<rect class="s" x="287.7" y="889.3" width="18" height="14"/><text class="t" x="296.7" y="895">劳动合<tspan x="296.7" dy="6.6">同管理</tspan></text>
<rect class="s" x="307.3" y="889.3" width="17.7" height="14"/><text class="t" x="316.2" y="895">在职人<tspan x="316.2" dy="6.6">员管理</tspan></text>
<rect class="s" x="326.7" y="889.3" width="17.6" height="14"/><text class="t" x="335.5" y="895">离退休<tspan x="335.5" dy="6.6">员管理</tspan></text>
<rect class="w" x="353.3" y="858.3" width="66" height="50"/><text class="h" x="386" y="867">薪酬管理</text>
<rect class="s" x="359.3" y="874" width="17.4" height="14.3"/><text class="t" x="368" y="880">工资总<tspan x="368" dy="6.6">额管理</tspan></text>
<rect class="s" x="378.3" y="874" width="17.7" height="14.3"/><text class="t" x="387.2" y="880">绩效奖<tspan x="387.2" dy="6.6">金管理</tspan></text>
<rect class="s" x="398.3" y="874" width="17.4" height="14.3"/><text class="t" x="407" y="880">福利保<tspan x="407" dy="6.6">险管理</tspan></text>
<rect class="s" x="359.3" y="890" width="17.4" height="13.3"/><text class="t" x="368" y="895.5">考勤<tspan x="368" dy="6.6">管理</tspan></text>
<rect class="s" x="378.3" y="890" width="17.7" height="13.3"/><text class="t" x="387.2" y="895.5">薪资计<tspan x="387.2" dy="6.6">算管理</tspan></text>
<rect class="w" x="427.3" y="858.3" width="49.4" height="50"/><text class="h" x="451.7" y="867">绩效考核</text>
<rect class="s" x="432.3" y="875" width="18.7" height="15"/><text class="t" x="441.6" y="881">组织<tspan x="441.6" dy="6.6">考核</tspan></text>
<rect class="s" x="452.3" y="875" width="17.7" height="15"/><text class="t" x="461.2" y="881">人员<tspan x="461.2" dy="6.6">考核</tspan></text>
<rect class="w" x="484" y="858.3" width="71" height="50"/><text class="h" x="520.7" y="867">培训管理</text>
<rect class="s" x="490" y="875" width="17.3" height="14"/><text class="t" x="498.6" y="881">知识产<tspan x="498.6" dy="6.6">权管理</tspan></text>
<rect class="s" x="510" y="875" width="17.3" height="14"/><text class="t" x="518.6" y="881">培训需<tspan x="518.6" dy="6.6">求管理</tspan></text>
<rect class="s" x="529.3" y="875" width="17.4" height="14"/><text class="t" x="538" y="881">培训计<tspan x="538" dy="6.6">划管理</tspan></text>
<rect class="s" x="490" y="890" width="17.3" height="13.3"/><text class="t" x="498.6" y="895.5">培训资<tspan x="498.6" dy="6.6">源管理</tspan></text>
<rect class="s" x="510" y="890" width="17.3" height="13.3"/><text class="t" x="518.6" y="895.5">培训实<tspan x="518.6" dy="6.6">施管理</tspan></text>
<rect class="s" x="529.3" y="890" width="17.4" height="13.3"/><text class="t" x="538" y="895.5">培训效<tspan x="538" dy="6.6">果管理</tspan></text>
<rect class="w" x="563.3" y="858.3" width="65.7" height="50"/><text class="h" x="592.7" y="867">员工发展</text>
<rect class="s" x="568.3" y="875" width="18.4" height="14"/><text class="t" x="577.5" y="881">后备干<tspan x="577.5" dy="6.6">部管理</tspan></text>
<rect class="s" x="588.3" y="875" width="17.7" height="14"/><text class="t" x="597.2" y="881">专业带<tspan x="597.2" dy="6.6">头管理</tspan></text>
<rect class="s" x="607.7" y="875" width="18" height="14"/><text class="t" x="616.7" y="881">技能竞<tspan x="616.7" dy="6.6">赛管理</tspan></text>
<rect class="s" x="568.3" y="890" width="18.4" height="13.3"/><text class="t" x="577.5" y="895.5">职称资<tspan x="577.5" dy="6.6">格管理</tspan></text>
<rect class="s" x="588.3" y="890" width="17.7" height="13.3"/><text class="t" x="597.2" y="895.5">职业规<tspan x="597.2" dy="6.6">划管理</tspan></text>
<rect class="s" x="607.7" y="890" width="18" height="13.3"/><text class="t" x="616.7" y="895.5">专家<tspan x="616.7" dy="6.6">管理</tspan></text>
</g>
</g>
<path d="M75 912.5H691" stroke="#e4ecf2" stroke-width="1" fill="none"/>

<text id="watermark" transform="translate(205 466) rotate(54.8)" font-size="34" letter-spacing="8" style="text-anchor:start;fill:#fff;fill-opacity:.5;stroke:#d6d6d6;stroke-width:.8">图片整理来自数字化转型home</text>

<g id="left-title">
<text x="22 22 22 22 22 22 22 22 22 22 22 22 22 22 22 22" y="241 267.8 294.6 321.4 348.2 375 401.8 428.6 455.4 482.2 509 535.8 562.6 589.4 616.2 643" font-size="25" font-weight="700" style="fill:#111;stroke:#111;stroke-width:.6">从战略规划到技术实施的一体化方案</text>
</g>
<g id="right-title">
<text x="718 718 718 718 718" y="46 74 103 133 162" font-size="25" style="fill:#1f3a70">数字化转型</text>
<text x="718 718 718 718" y="188 216 246 275" font-size="22" font-weight="700" style="fill:#0f2a5f;stroke:#0f2a5f;stroke-width:.7;font-family:'DejaVu Sans',sans-serif">home</text>
</g>
<text id="footer" class="song" x="50" y="978" font-size="24" font-style="italic" letter-spacing="2.6" style="text-anchor:start;fill:#16305f">下单后5分钟内自动发货&#xFF0C;店铺客服聊天窗口发送下载链接</text>
</svg>
